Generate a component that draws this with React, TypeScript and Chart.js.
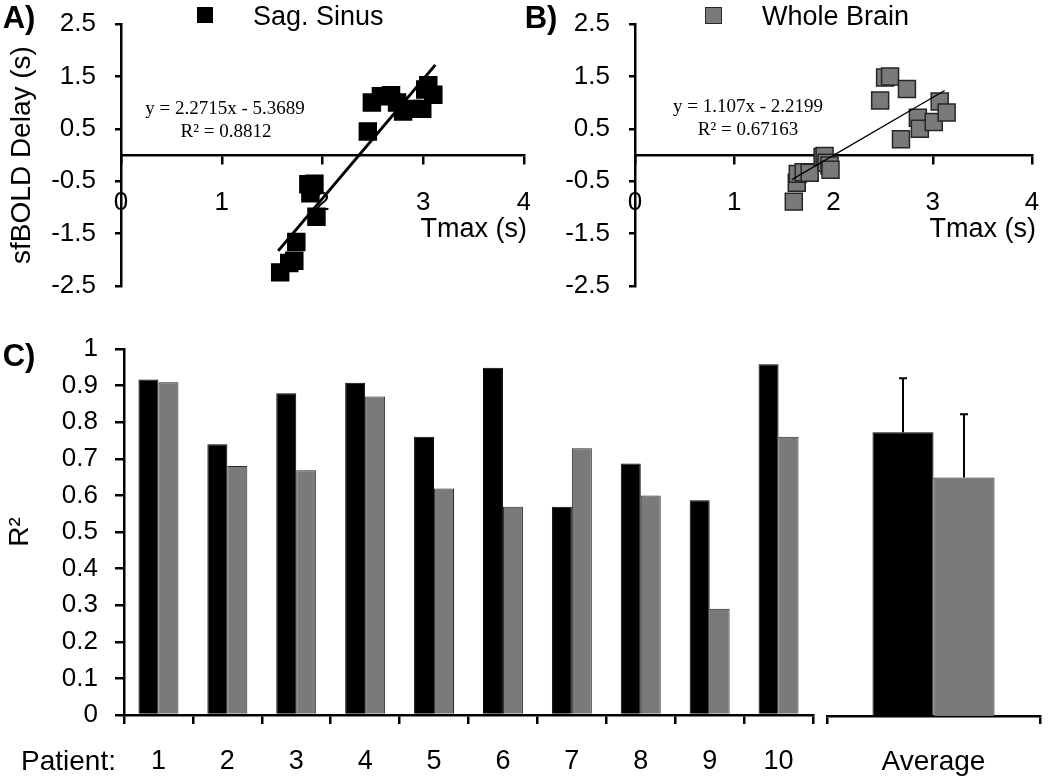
import React, { useEffect, useRef } from "react";
import { Chart, registerables } from "chart.js";

Chart.register(...registerables);

const SANS = "'Liberation Sans', Arial, Helvetica, sans-serif";
const SERIF = "'Liberation Serif', 'Times New Roman', serif";

// ---------- Panel A: Sag. Sinus ----------
const sagTmax = [1.58, 1.67, 1.72, 1.74, 1.86, 1.88, 1.92, 1.94, 2.45, 2.49, 2.58, 2.68, 2.74, 2.8, 2.89, 2.99, 3.02, 3.05, 3.1];
const sagDelay = [-2.24, -2.06, -2.02, -1.66, -0.56, -0.73, -0.55, -1.18, 0.45, 1.0, 1.12, 1.14, 1.0, 0.83, 0.88, 0.88, 1.25, 1.33, 1.15];
const sagFitX = [1.56, 3.12];
const sagFitY = [-1.83, 1.72];

// ---------- Panel B: Whole Brain ----------
const wbTmax = [1.6, 1.63, 1.64, 1.7, 1.76, 1.89, 1.91, 1.93, 1.96, 1.97, 2.47, 2.52, 2.57, 2.68, 2.74, 2.85, 2.87, 3.01, 3.07, 3.14];
const wbDelay = [-0.89, -0.53, -0.36, -0.33, -0.34, -0.04, -0.02, -0.15, -0.2, -0.28, 1.04, 1.48, 1.5, 0.3, 1.26, 0.71, 0.5, 0.63, 1.02, 0.81];
const wbFitX = [1.58, 3.12];
const wbFitY = [-0.47, 1.23];

const scatterXTicks = [0, 1, 2, 3, 4];
const scatterYTicks = [-2.5, -1.5, -0.5, 0.5, 1.5, 2.5];

// ---------- Panel C: R² per patient ----------
const patients = ["1", "2", "3", "4", "5", "6", "7", "8", "9", "10"];
const sagR2 = [0.917, 0.74, 0.879, 0.908, 0.76, 0.949, 0.569, 0.687, 0.587, 0.958];
const wbR2 = [0.909, 0.68, 0.669, 0.87, 0.619, 0.569, 0.729, 0.6, 0.29, 0.76];
const r2Ticks = [0, 0.1, 0.2, 0.3, 0.4, 0.5, 0.6, 0.7, 0.8, 0.9, 1];

// ---------- Average ----------
const avgLabels = ["Average"];
const avgSag = [0.773];
const avgWb = [0.65];
const avgSagErr = [0.147];
const avgWbErr = [0.172];

const BLACK = "#000000";
const GREY = "#7a7a7a";
const GREY_EDGE = "#262626";

function axisCommon(tickLength: number) {
  return {
    border: { display: true, color: BLACK, width: 2.5 },
    grid: {
      display: true,
      drawOnChartArea: false,
      drawTicks: true,
      tickLength,
      color: BLACK,
      lineWidth: 2.5,
    },
  };
}

function noPad(s: any) {
  s.paddingTop = 0;
  s.paddingBottom = 0;
  s.paddingLeft = 0;
  s.paddingRight = 0;
}

function scatterConfig(
  xs: number[],
  ys: number[],
  fx: number[],
  fy: number[],
  fill: string,
  edge: string,
  fitWidth: number,
  yWidth: number,
  yTitle: string | null,
  padRight: number
): any {
  return {
    type: "scatter",
    data: {
      datasets: [
        {
          type: "line",
          data: fx.map((x, i) => ({ x, y: fy[i] })),
          borderColor: BLACK,
          borderWidth: fitWidth,
          pointRadius: 0,
          showLine: true,
          fill: false,
          order: 0,
        },
        {
          data: xs.map((x, i) => ({ x, y: ys[i] })),
          pointStyle: "rect",
          pointRadius: 12,
          backgroundColor: fill,
          borderColor: edge,
          borderWidth: 1.5,
          order: 1,
        },
      ],
    },
    options: {
      responsive: false,
      animation: false,
      events: [],
      layout: { autoPadding: false, padding: { top: 24, bottom: 14, left: 0, right: padRight } },
      plugins: { legend: { display: false }, tooltip: { enabled: false } },
      scales: {
        x: {
          type: "linear",
          min: 0,
          max: 4,
          position: { y: 0 },
          afterBuildTicks: (s: any) => {
            s.ticks = scatterXTicks.map((v) => ({ value: v }));
          },
          afterFit: (s: any) => {
            s.height = 0;
            noPad(s);
          },
          ...axisCommon(8),
          ticks: {
            color: BLACK,
            font: { size: 26, family: SANS },
            padding: 24,
            maxRotation: 0,
            autoSkip: false,
            callback: (v: any) => String(v),
          },
        },
        y: {
          type: "linear",
          min: -2.5,
          max: 2.5,
          position: "left",
          afterBuildTicks: (s: any) => {
            s.ticks = scatterYTicks.map((v) => ({ value: v }));
          },
          afterFit: (s: any) => {
            s.width = yWidth;
            noPad(s);
          },
          ...axisCommon(6),
          ticks: {
            color: BLACK,
            font: { size: 26, family: SANS },
            padding: 19,
            callback: (v: any) => String(v),
          },
          title: {
            display: !!yTitle,
            text: yTitle || "",
            color: BLACK,
            font: { size: 28, family: SANS },
            padding: { top: 5, bottom: 0 },
          },
        },
      },
    },
  };
}

function barConfig(): any {
  return {
    type: "bar",
    data: {
      labels: patients,
      datasets: [
        { label: "Sag. Sinus", data: sagR2, backgroundColor: BLACK, borderColor: BLACK, borderWidth: 1 },
        { label: "Whole Brain", data: wbR2, backgroundColor: GREY, borderColor: GREY_EDGE, borderWidth: 1 },
      ],
    },
    options: {
      responsive: false,
      animation: false,
      events: [],
      categoryPercentage: 0.58,
      barPercentage: 1.0,
      layout: { padding: { top: 49, bottom: 0, left: 0, right: 7 } },
      plugins: { legend: { display: false }, tooltip: { enabled: false } },
      scales: {
        x: {
          type: "category",
          afterFit: (s: any) => {
            s.height = 65;
            noPad(s);
          },
          ...axisCommon(9),
          grid: { ...axisCommon(9).grid, offset: true },
          ticks: { color: BLACK, font: { size: 27, family: SANS }, padding: 21, maxRotation: 0, autoSkip: false },
        },
        y: {
          type: "linear",
          min: 0,
          max: 1,
          afterBuildTicks: (s: any) => {
            s.ticks = r2Ticks.map((v) => ({ value: v }));
          },
          afterFit: (s: any) => {
            s.width = 124;
            noPad(s);
          },
          ...axisCommon(9),
          ticks: { color: BLACK, font: { size: 26, family: SANS }, padding: 17, callback: (v: any) => String(v) },
          title: {
            display: true,
            text: "R²",
            color: BLACK,
            font: { size: 28, family: SANS },
            padding: { top: 3, bottom: 0 },
          },
        },
      },
    },
  };
}

const errorBarPlugin = {
  id: "errorBars",
  afterDatasetsDraw(chart: any) {
    const ctx = chart.ctx;
    const yScale = chart.scales.y;
    const errs = [avgSagErr, avgWbErr];
    chart.data.datasets.forEach((ds: any, i: number) => {
      const meta = chart.getDatasetMeta(i);
      meta.data.forEach((el: any, j: number) => {
        const top = yScale.getPixelForValue(ds.data[j] + errs[i][j]);
        ctx.save();
        ctx.strokeStyle = BLACK;
        ctx.lineWidth = 2;
        ctx.beginPath();
        ctx.moveTo(el.x, el.y);
        ctx.lineTo(el.x, top);
        ctx.moveTo(el.x - 4, top);
        ctx.lineTo(el.x + 4, top);
        ctx.stroke();
        ctx.restore();
      });
    });
  },
};

function avgConfig(): any {
  return {
    type: "bar",
    data: {
      labels: avgLabels,
      datasets: [
        { label: "Sag. Sinus", data: avgSag, backgroundColor: BLACK, borderColor: BLACK, borderWidth: 1 },
        { label: "Whole Brain", data: avgWb, backgroundColor: GREY, borderColor: GREY_EDGE, borderWidth: 1 },
      ],
    },
    options: {
      responsive: false,
      animation: false,
      events: [],
      categoryPercentage: 0.573,
      barPercentage: 1.0,
      layout: { padding: { top: 49, bottom: 0, left: 7, right: 10 } },
      plugins: { legend: { display: false }, tooltip: { enabled: false } },
      scales: {
        x: {
          type: "category",
          afterFit: (s: any) => {
            s.height = 64;
            noPad(s);
          },
          ...axisCommon(8),
          grid: { ...axisCommon(8).grid, offset: true },
          ticks: { color: BLACK, font: { size: 28, family: SANS }, padding: 21, maxRotation: 0 },
        },
        y: { type: "linear", min: 0, max: 1, display: false },
      },
    },
    plugins: [errorBarPlugin],
  };
}

function ChartBox(props: { left: number; top: number; width: number; height: number; make: () => any }) {
  const ref = useRef<HTMLCanvasElement | null>(null);
  useEffect(() => {
    if (!ref.current) return;
    const chart = new Chart(ref.current, props.make());
    return () => chart.destroy();
  }, []);
  return (
    <canvas
      ref={ref}
      width={props.width}
      height={props.height}
      style={{ position: "absolute", left: props.left, top: props.top, width: props.width, height: props.height }}
    />
  );
}

function Txt(props: {
  x: number;
  y: number;
  children: React.ReactNode;
  size: number;
  family?: string;
  bold?: boolean;
  align?: "left" | "center" | "right";
}) {
  const align = props.align || "center";
  const tx = align === "left" ? "0" : align === "right" ? "-100%" : "-50%";
  return (
    <div
      style={{
        position: "absolute",
        left: props.x,
        top: props.y,
        transform: `translate(${tx}, -50%)`,
        fontFamily: props.family || SANS,
        fontSize: props.size,
        fontWeight: props.bold ? "bold" : "normal",
        lineHeight: 1,
        whiteSpace: "nowrap",
        color: "#000",
      }}
    >
      {props.children}
    </div>
  );
}

export default function App() {
  return (
    <div
      style={{
        position: "fixed",
        left: 0,
        top: 0,
        width: 1050,
        height: 780,
        background: "#fff",
        overflow: "hidden",
      }}
    >
      <ChartBox
        left={0}
        top={0}
        width={530}
        height={300}
        make={() => scatterConfig(sagTmax, sagDelay, sagFitX, sagFitY, BLACK, BLACK, 3, 121, "sfBOLD Delay (s)", 6)}
      />
      <ChartBox
        left={520}
        top={0}
        width={530}
        height={300}
        make={() => scatterConfig(wbTmax, wbDelay, wbFitX, wbFitY, GREY, GREY_EDGE, 1.3, 115, null, 18)}
      />
      <ChartBox left={0} top={300} width={820} height={480} make={barConfig} />
      <ChartBox left={820} top={300} width={230} height={480} make={avgConfig} />

      {/* panel letters */}
      <Txt x={19} y={17} size={31} bold>
        A)
      </Txt>
      <Txt x={541} y={17} size={31} bold>
        B)
      </Txt>
      <Txt x={19} y={355} size={31} bold>
        C)
      </Txt>

      {/* legends */}
      <div style={{ position: "absolute", left: 197, top: 7, width: 16, height: 16, background: BLACK }} />
      <Txt x={253} y={16} size={27} align="left">
        Sag. Sinus
      </Txt>
      <div
        style={{
          position: "absolute",
          left: 705,
          top: 7,
          width: 15,
          height: 15,
          background: GREY,
          border: `1px solid ${GREY_EDGE}`,
        }}
      />
      <Txt x={762} y={16} size={27} align="left">
        Whole Brain
      </Txt>

      {/* trend equations */}
      <Txt x={225} y={107} size={19} family={SERIF}>
        y = 2.2715x - 5.3689
      </Txt>
      <Txt x={226} y={130} size={19} family={SERIF}>
        R² = 0.8812
      </Txt>
      <Txt x={748} y={105} size={19} family={SERIF}>
        y = 1.107x - 2.2199
      </Txt>
      <Txt x={748} y={128} size={19} family={SERIF}>
        R² = 0.67163
      </Txt>

      {/* x-axis titles */}
      <Txt x={527} y={228} size={27} align="right">
        Tmax (s)
      </Txt>
      <Txt x={1036} y={228} size={27} align="right">
        Tmax (s)
      </Txt>

      <Txt x={21} y={761} size={28} align="left">
        Patient:
      </Txt>
    </div>
  );
}
